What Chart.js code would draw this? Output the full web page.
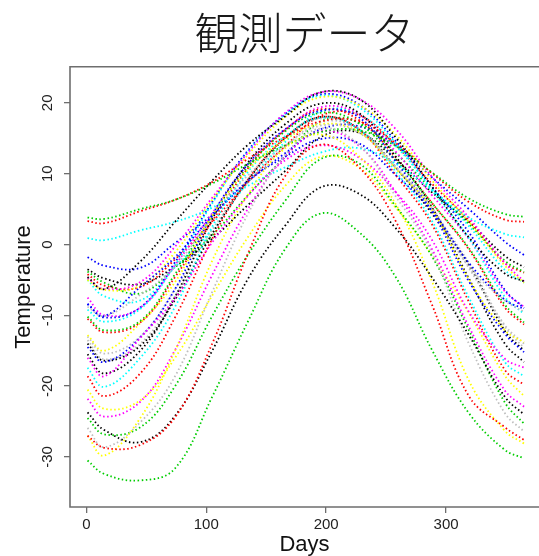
<!DOCTYPE html>
<html>
<head>
<meta charset="utf-8">
<script src="https://cdn.jsdelivr.net/npm/chart.js@4.4.1/dist/chart.umd.min.js"></script>
<style>
  body { margin: 0; background: #fff; }
  canvas { display: block; }
</style>
</head>
<body>
<canvas id="tempChart" width="539" height="556"></canvas>
<script>
// sample days (day of year) and mean temperatures
const days = [1, 15, 45, 74, 105, 135, 166, 196, 227, 258, 288, 319, 349, 365];
const xTicks = [0, 100, 200, 300];
const yTicks = [-30, -20, -10, 0, 10, 20];

const stJohns      = [-3.5, -4.8, -5.6, -3.1, 0.8, 5.6, 10.4, 15.2, 15.8, 12.0, 7.4, 3.2, -1.6, -3.2];
const halifax      = [-4.2, -5.8, -6.0, -2.1, 3.2, 8.8, 13.9, 18.2, 18.3, 14.0, 8.6, 3.4, -2.6, -4.0];
const sydney       = [-3.8, -5.4, -6.9, -3.2, 1.3, 7.0, 12.4, 17.4, 17.2, 12.9, 7.8, 2.9, -2.3, -3.9];
const yarmouth     = [-1.8, -3.0, -3.3, 0.2, 4.2, 8.9, 12.9, 16.3, 16.7, 14.0, 9.5, 5.0, 0.4, -1.5];
const charlottetwn = [-5.0, -7.3, -7.9, -3.2, 2.1, 8.8, 14.5, 18.8, 18.4, 13.9, 8.0, 2.6, -3.6, -5.4];
const fredericton  = [-7.5, -10.0, -8.9, -2.9, 4.4, 11.2, 16.2, 19.4, 18.4, 13.1, 7.0, 0.8, -6.6, -8.8];
const scheffervll  = [-20.5, -23.2, -22.0, -16.0, -7.2, 1.1, 8.3, 12.4, 10.9, 5.2, -1.5, -9.7, -18.5, -21.4];
const arvida       = [-13.5, -16.2, -14.0, -7.3, 1.6, 9.3, 15.1, 17.8, 16.1, 10.8, 4.8, -2.6, -11.6, -14.6];
const bagottville  = [-14.0, -16.4, -14.3, -7.8, 1.5, 9.1, 15.0, 18.0, 16.3, 10.9, 4.4, -2.9, -12.2, -15.0];
const quebec       = [-10.5, -12.4, -11.0, -4.6, 3.3, 10.8, 16.2, 19.1, 17.6, 12.3, 5.9, -0.7, -8.9, -11.3];
const sherbrooke   = [-10.2, -12.1, -10.8, -4.2, 4.0, 11.0, 16.0, 18.6, 17.1, 11.9, 5.9, -0.5, -8.5, -11.0];
const montreal     = [-8.4, -10.3, -8.9, -2.5, 6.0, 13.3, 18.4, 21.2, 19.8, 14.6, 8.2, 1.7, -6.4, -9.0];
const ottawa       = [-9.2, -10.9, -9.1, -2.9, 5.8, 13.2, 18.4, 21.0, 19.4, 14.3, 7.7, 0.9, -7.4, -9.8];
const toronto      = [-4.8, -6.3, -5.3, -0.3, 6.6, 13.0, 18.6, 21.5, 20.6, 16.3, 9.6, 3.8, -2.6, -5.2];
const london       = [-5.0, -6.4, -5.8, -1.1, 6.3, 12.7, 18.0, 20.8, 19.7, 15.5, 9.1, 3.2, -3.0, -5.4];
const thunderBay   = [-13.0, -15.4, -13.0, -6.3, 2.1, 8.8, 13.8, 17.3, 16.3, 11.0, 4.8, -3.3, -11.4, -14.0];
const winnipeg     = [-15.5, -18.2, -15.0, -7.4, 3.6, 11.6, 17.0, 19.9, 18.6, 12.4, 5.3, -4.8, -14.0, -16.6];
const thePas       = [-18.6, -21.4, -18.2, -10.3, 0.8, 9.2, 15.1, 18.0, 16.3, 9.8, 2.9, -8.1, -17.7, -19.8];
const churchill    = [-24.5, -26.8, -25.8, -20.0, -10.1, -1.4, 6.2, 12.1, 11.5, 5.4, -1.6, -12.1, -22.3, -25.3];
const regina       = [-14.5, -16.6, -13.1, -6.3, 4.2, 11.4, 16.3, 18.9, 18.0, 11.7, 4.7, -5.2, -12.6, -15.2];
const prAlbert     = [-17.4, -20.1, -16.0, -8.8, 2.5, 10.3, 15.3, 17.9, 16.3, 10.3, 3.4, -7.5, -16.6, -18.6];
const uraniumCity  = [-21.8, -24.3, -22.2, -14.9, -4.3, 5.1, 12.4, 16.0, 14.0, 7.4, -0.6, -11.6, -20.6, -22.9];
const edmonton     = [-12.8, -15.0, -11.1, -5.3, 4.1, 10.6, 14.8, 17.0, 15.9, 10.7, 5.0, -4.9, -12.1, -13.8];
const calgary      = [-8.8, -10.1, -7.1, -3.1, 3.9, 9.8, 14.0, 16.8, 15.8, 11.0, 5.3, -3.1, -7.9, -9.5];
const kamloops     = [-4.6, -6.3, -2.4, 3.2, 9.0, 14.1, 18.1, 21.5, 20.6, 15.1, 8.2, 1.0, -4.1, -5.2];
const vancouver    = [3.3, 3.0, 4.7, 6.3, 8.8, 12.1, 15.2, 17.4, 17.4, 14.3, 10.1, 6.0, 3.5, 3.2];
const victoria     = [3.8, 3.6, 5.0, 6.3, 8.6, 11.4, 14.0, 15.9, 16.1, 13.9, 10.2, 6.5, 4.3, 3.9];
const prGeorge     = [-8.4, -10.1, -6.0, -1.8, 4.0, 9.0, 12.4, 14.9, 14.3, 9.8, 4.8, -2.6, -7.8, -9.1];
const prRupert     = [0.9, 0.6, 2.0, 3.2, 5.2, 8.3, 10.9, 13.0, 13.6, 11.4, 7.7, 3.8, 1.5, 1.0];
const whitehorse   = [-16.0, -18.6, -13.2, -7.6, 0.3, 6.9, 11.9, 14.0, 12.3, 7.4, 0.7, -9.5, -16.1, -17.4];
const dawson       = [-27.0, -29.8, -24.5, -15.0, -2.3, 7.1, 13.6, 15.5, 12.5, 5.7, -5.1, -19.2, -26.3, -28.1];
const yellowknife  = [-25.9, -28.6, -25.1, -18.6, -6.7, 4.4, 12.7, 16.4, 14.1, 6.8, -1.1, -14.0, -23.8, -26.4];
const iqaluit      = [-23.7, -26.2, -27.9, -24.2, -15.0, -4.8, 2.7, 8.1, 7.2, 2.3, -4.6, -12.8, -21.5, -24.0];
const inuvik       = [-27.0, -28.7, -28.3, -24.4, -14.0, -1.2, 9.7, 14.1, 11.0, 3.3, -8.4, -21.4, -25.8, -27.6];
const resolute     = [-30.5, -32.4, -33.3, -31.6, -21.5, -10.8, -0.6, 4.4, 1.8, -4.6, -14.8, -23.8, -29.0, -30.2];

const stations = ['St. Johns', 'Halifax', 'Sydney', 'Yarmouth', 'Charlottetown', 'Fredericton',
  'Scheffervll', 'Arvida', 'Bagottville', 'Quebec', 'Sherbrooke', 'Montreal', 'Ottawa', 'Toronto',
  'London', 'Thunder Bay', 'Winnipeg', 'The Pas', 'Churchill', 'Regina', 'Pr. Albert', 'Uranium Cty',
  'Edmonton', 'Calgary', 'Kamloops', 'Vancouver', 'Victoria', 'Pr. George', 'Pr. Rupert',
  'Whitehorse', 'Dawson', 'Yellowknife', 'Iqaluit', 'Inuvik', 'Resolute'];
const series = [stJohns, halifax, sydney, yarmouth, charlottetwn, fredericton, scheffervll, arvida,
  bagottville, quebec, sherbrooke, montreal, ottawa, toronto, london, thunderBay, winnipeg, thePas,
  churchill, regina, prAlbert, uraniumCity, edmonton, calgary, kamloops, vancouver, victoria,
  prGeorge, prRupert, whitehorse, dawson, yellowknife, iqaluit, inuvik, resolute];

// R's old default palette, recycled
const palette = ['#000000', '#FF0000', '#00CD00', '#0000FF', '#00FFFF', '#FF00FF', '#FFFF00', '#BEBEBE'];

const boxPlugin = {
  id: 'box',
  afterDraw(chart) {
    const { ctx, chartArea: a } = chart;
    ctx.save();
    ctx.strokeStyle = '#6e6e6e';
    ctx.lineWidth = 1.6;
    ctx.beginPath();
    ctx.moveTo(a.right + 2, a.top);
    ctx.lineTo(a.left, a.top);
    ctx.lineTo(a.left, a.bottom);
    ctx.lineTo(a.right + 2, a.bottom);
    ctx.stroke();
    ctx.restore();
  }
};

const tickFont = { family: '"Liberation Sans", Arial, sans-serif', size: 15 };
const titleFont = { family: '"Liberation Sans", Arial, sans-serif', size: 22, lineHeight: 1 };

new Chart(document.getElementById('tempChart'), {
  type: 'line',
  data: {
    datasets: series.map((vals, i) => ({
      label: stations[i],
      data: days.map((d, j) => ({ x: d, y: vals[j] })),
      borderColor: palette[i % palette.length],
      borderWidth: 1.8,
      borderDash: [1.5, 2.5],
      pointRadius: 0,
      tension: 0.4,
      fill: false,
      order: series.length - i
    }))
  },
  options: {
    responsive: false,
    animation: false,
    layout: { padding: 0 },
    plugins: {
      legend: { display: false },
      tooltip: { enabled: false },
      title: {
        display: true,
        text: '観測データ',
        fullSize: false,
        color: '#1a1a1a',
        font: { family: '"Noto Sans CJK JP", sans-serif', size: 44, weight: '300', lineHeight: 1.2 },
        padding: { top: 7, bottom: 7 }
      }
    },
    scales: {
      x: {
        type: 'linear',
        min: -13.6,
        max: 377.5,
        afterBuildTicks: (axis) => { axis.ticks = xTicks.map(v => ({ value: v })); },
        afterFit: (axis) => { axis.height = 49; },
        grid: { drawOnChartArea: false, drawTicks: true, tickLength: 6, color: '#6e6e6e', lineWidth: 1.3 },
        border: { display: false },
        ticks: { font: tickFont, color: '#222', padding: 3, maxRotation: 0, autoSkip: false },
        title: { display: true, text: 'Days', color: '#111', font: titleFont, padding: { top: 0, bottom: 0 } }
      },
      y: {
        min: -37.06,
        max: 25.08,
        afterBuildTicks: (axis) => { axis.ticks = yTicks.map(v => ({ value: v })); },
        afterFit: (axis) => { axis.width = 70; },
        grid: { drawOnChartArea: false, drawTicks: true, tickLength: 6, color: '#6e6e6e', lineWidth: 1.3 },
        border: { display: false },
        ticks: { font: tickFont, color: '#222', padding: 5, minRotation: 90, maxRotation: 90, crossAlign: 'center', autoSkip: false },
        title: { display: true, text: 'Temperature', color: '#111', font: titleFont, padding: { top: 13, bottom: 0 } }
      }
    }
  },
  plugins: [boxPlugin]
});
</script>
</body>
</html>
